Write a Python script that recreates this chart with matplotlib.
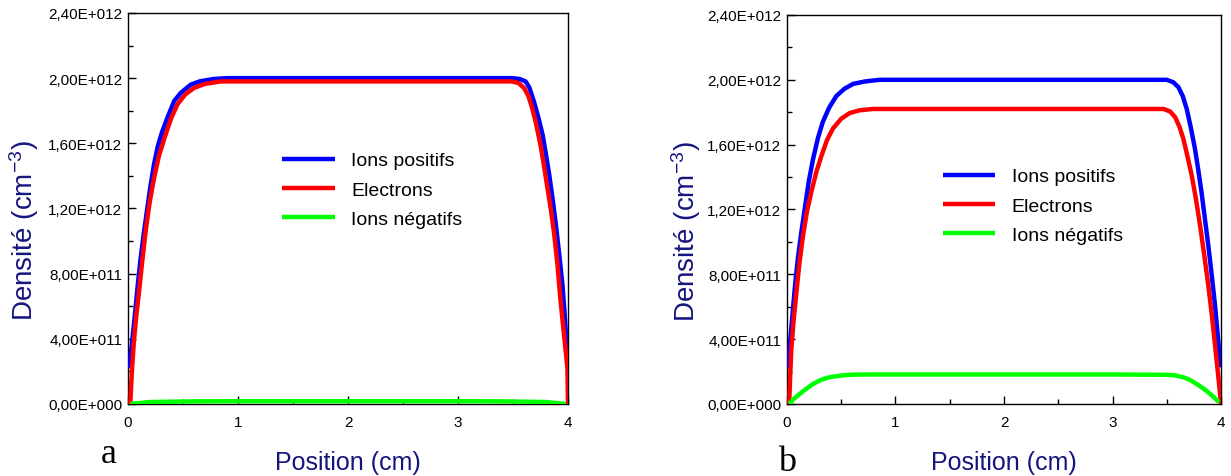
import matplotlib
matplotlib.use("Agg")
import matplotlib.pyplot as plt
from matplotlib.ticker import MultipleLocator, FixedLocator

plt.rcParams['font.family'] = ['Liberation Sans', 'DejaVu Sans']
plt.rcParams['mathtext.fontset'] = 'custom'
plt.rcParams['mathtext.rm'] = 'Liberation Sans'
plt.rcParams['mathtext.it'] = 'Liberation Sans'
plt.rcParams['mathtext.bf'] = 'Liberation Sans'
plt.rcParams['axes.unicode_minus'] = False

# ---------------- data (densities in units of 1e12 cm^-3) ----------------
labels = ["Ions positifs", "Electrons", "Ions négatifs"]

a_pos_x = [0.01, 0.04, 0.068, 0.09, 0.114, 0.14, 0.175, 0.2, 0.236, 0.27, 0.31, 0.36,
           0.42, 0.48, 0.57, 0.65, 0.78, 0.9, 1.0, 2.0, 3.0, 3.3,
           3.49, 3.56, 3.615, 3.65, 3.69, 3.73, 3.77, 3.80, 3.83, 3.86, 3.89, 3.92,
           3.95, 3.975, 4.0]
a_pos_y = [0.22, 0.40, 0.585, 0.74, 0.89, 1.03, 1.2, 1.32, 1.47, 1.58, 1.67, 1.76,
           1.86, 1.91, 1.96, 1.98, 1.995, 2.0, 2.0, 2.0, 2.0, 2.0,
           2.0, 1.995, 1.98, 1.94, 1.857, 1.76, 1.65, 1.53, 1.405, 1.26, 1.1, 0.92,
           0.73, 0.5, 0.22]
a_ele_x = [0.02, 0.035, 0.053, 0.075, 0.10, 0.13, 0.16, 0.195, 0.236, 0.28, 0.33, 0.39,
           0.45, 0.52, 0.60, 0.70, 0.845, 1.0, 2.0, 3.0, 3.3,
           3.49, 3.55, 3.60, 3.64, 3.675, 3.71, 3.75, 3.78, 3.81, 3.845, 3.875, 3.905,
           3.93, 3.96, 3.995, 4.0]
a_ele_y = [0.0, 0.2, 0.38, 0.54, 0.69, 0.88, 1.06, 1.23, 1.385, 1.52, 1.63, 1.75,
           1.84, 1.90, 1.94, 1.965, 1.98, 1.98, 1.98, 1.98, 1.98,
           1.98, 1.97, 1.94, 1.89, 1.815, 1.72, 1.59, 1.47, 1.34, 1.19, 1.04, 0.85,
           0.65, 0.45, 0.22, 0.0]
a_neg_x = [0.02, 0.2, 0.6, 1.0, 2.0, 3.0, 3.4, 3.8, 3.98]
a_neg_y = [0.0, 0.012, 0.016, 0.017, 0.017, 0.017, 0.016, 0.012, 0.0]

b_pos_x = [0.01, 0.03, 0.055, 0.077, 0.1, 0.13, 0.163, 0.2, 0.24, 0.285, 0.33, 0.39,
           0.455, 0.53, 0.61, 0.72, 0.855, 1.0, 2.0, 3.0, 3.3,
           3.5, 3.56, 3.607, 3.647, 3.684, 3.72, 3.76, 3.79, 3.82, 3.85, 3.883, 3.915,
           3.945, 3.97, 3.997]
b_pos_y = [0.22, 0.39, 0.586, 0.75, 0.895, 1.05, 1.2, 1.37, 1.51, 1.64, 1.74, 1.83,
           1.9, 1.945, 1.975, 1.99, 2.0, 2.0, 2.0, 2.0, 2.0,
           2.0, 1.985, 1.955, 1.9, 1.82, 1.71, 1.574, 1.445, 1.307, 1.15, 0.977, 0.79,
           0.607, 0.42, 0.226]
b_ele_x = [0.02, 0.03, 0.04, 0.062, 0.087, 0.115, 0.148, 0.185, 0.225, 0.27, 0.317, 0.37,
           0.424, 0.5, 0.578, 0.67, 0.79, 1.0, 2.0, 3.0, 3.3,
           3.47, 3.53, 3.577, 3.617, 3.653, 3.69, 3.73, 3.77, 3.807, 3.845, 3.883, 3.915,
           3.945, 3.975, 4.0]
b_ele_y = [0.0, 0.18, 0.34, 0.52, 0.69, 0.87, 1.04, 1.19, 1.31, 1.43, 1.53, 1.63,
           1.70, 1.76, 1.795, 1.812, 1.82, 1.82, 1.82, 1.82, 1.82,
           1.82, 1.805, 1.77, 1.71, 1.636, 1.53, 1.41, 1.26, 1.10, 0.92, 0.73, 0.55,
           0.36, 0.17, 0.0]
b_neg_x = [0.02, 0.06, 0.117, 0.18, 0.24, 0.31, 0.39, 0.49, 0.61, 0.8, 1.0, 2.0, 3.0,
           3.5, 3.58, 3.653, 3.72, 3.777, 3.84, 3.9, 3.945, 3.98]
b_neg_y = [0.0, 0.03, 0.062, 0.095, 0.123, 0.148, 0.165, 0.175, 0.181, 0.182, 0.182, 0.182, 0.182,
           0.18, 0.176, 0.165, 0.146, 0.123, 0.094, 0.062, 0.035, 0.01]

y_ticks = [0.0, 0.4, 0.8, 1.2, 1.6, 2.0, 2.4]
y_ticklabels = ["0,00E+000", "4,00E+011", "8,00E+011", "1,20E+012",
                "1,60E+012", "2,00E+012", "2,40E+012"]
x_ticks = [0, 1, 2, 3, 4]
panel_letters = ["a", "b"]

colors = ["#0000ff", "#ff0000", "#00ff00"]
label_color = "#15157f"

fig = plt.figure(figsize=(12.31, 4.77), dpi=100)
ax_a = fig.add_axes([0.104, 0.151, 0.3574, 0.8197])
ax_b = fig.add_axes([0.6393, 0.151, 0.3526, 0.8155])

panels = [
    (ax_a, [(a_pos_x, a_pos_y), (a_ele_x, a_ele_y), (a_neg_x, a_neg_y)], (0.35, 0.645), -0.197),
    (ax_b, [(b_pos_x, b_pos_y), (b_ele_x, b_ele_y), (b_neg_x, b_neg_y)], (0.359, 0.607), -0.193),
]

for ax, series, legpos, ylab_x in panels:
    for (xs, ys), c, lab in zip(series, colors, labels):
        ax.plot(xs, ys, color=c, lw=3.2, label=lab, solid_capstyle='butt',
                solid_joinstyle='round', zorder=3)
    ax.set_xlim(0, 4)
    ax.set_ylim(0, 2.4)
    ax.yaxis.set_major_locator(FixedLocator(y_ticks))
    ax.set_yticklabels(y_ticklabels)
    ax.yaxis.set_minor_locator(MultipleLocator(0.2))
    ax.xaxis.set_major_locator(FixedLocator(x_ticks))
    ax.set_xticklabels([str(t) for t in x_ticks])
    ax.xaxis.set_minor_locator(MultipleLocator(0.5))
    ax.yaxis.set_ticks_position('left')
    ax.xaxis.set_ticks_position('bottom')
    ax.tick_params(which='both', direction='in', labelsize=11, colors='black')
    ax.tick_params(which='major', length=6, width=1)
    ax.tick_params(which='minor', length=3.5, width=1)
    ax.tick_params(axis='x', pad=8)
    ax.tick_params(axis='y', pad=4)
    for s in ax.spines.values():
        s.set_linewidth(1.0)
    ax.set_xlabel("Position (cm)", fontsize=18, color=label_color, labelpad=15)
    ax.set_ylabel("Densité (cm$^{\\mathregular{-3}}$)", fontsize=20, color=label_color)
    ax.yaxis.set_label_coords(ylab_x, 0.447)
    leg = ax.legend(loc='upper left', bbox_to_anchor=legpos, frameon=False,
                    fontsize=14, handlelength=2.7, handletextpad=0.85,
                    labelspacing=0.6, borderpad=0, borderaxespad=0)
    for line in leg.get_lines():
        line.set_linewidth(3.2)

fig.text(0.0815, 0.03, panel_letters[0], fontsize=26, family='Liberation Serif')
fig.text(0.632, 0.013, panel_letters[1], fontsize=26, family='Liberation Serif')

fig.savefig("out.png", dpi=100)
